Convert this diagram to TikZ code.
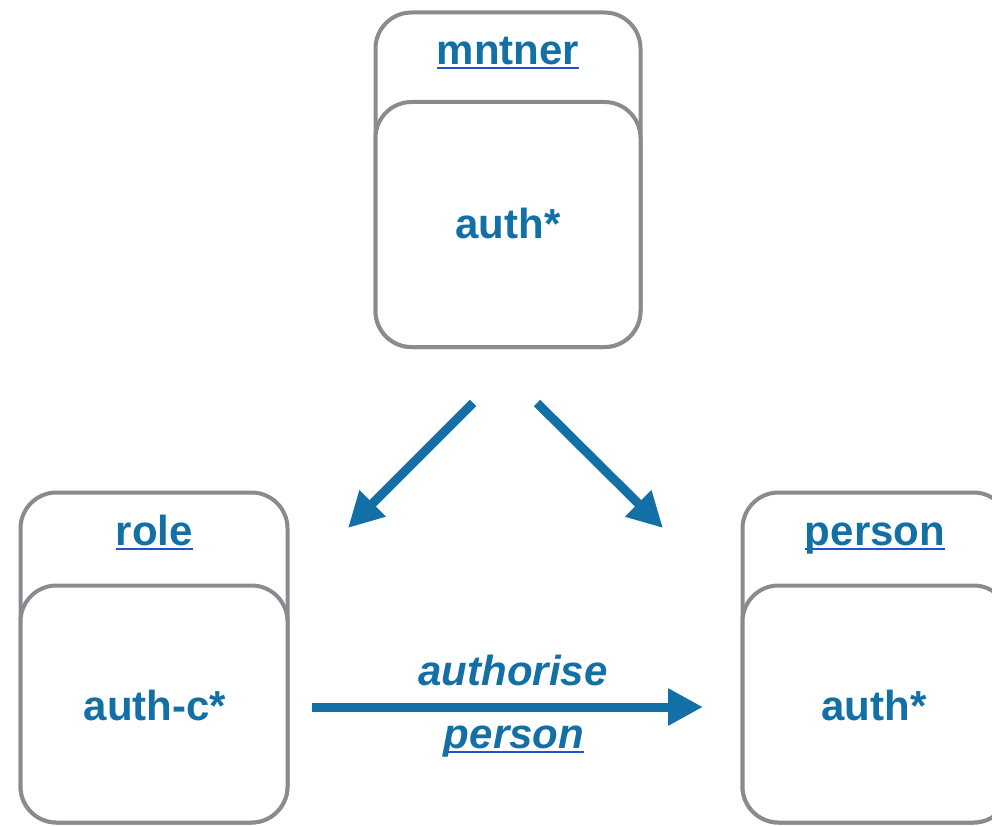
\documentclass[tikz,border=0pt]{standalone}
\usepackage{fontspec}
\setmainfont{Liberation Sans}
\usetikzlibrary{arrows.meta}
\definecolor{linkblue}{HTML}{1270A6}
\definecolor{ulblue}{HTML}{1E55C8}
\definecolor{boxgray}{HTML}{898B90}
\newsavebox\lnkbox
% underlined link text with its own underline colour
\newcommand\linked[1]{\sbox\lnkbox{#1}\rlap{\textcolor{ulblue}{\rule[-4.5pt]{\wd\lnkbox}{2pt}}}\usebox\lnkbox}
\begin{document}
\begin{tikzpicture}[x=1pt,y=-1pt,
  objbox/.style={draw=boxgray, line width=4pt, fill=white, rounded corners=36pt,
    inner sep=0pt, outer sep=0pt, anchor=north west},
  label/.style={text=linkblue, font=\bfseries\fontsize{42}{50}\selectfont,
    anchor=base, inner sep=0pt},
  flow/.style={draw=linkblue, line width=9pt,
    -{Triangle[length=35pt,width=35pt]}}]
\useasboundingbox (0,0) rectangle (992,826);
\clip (0,0) rectangle (992,826);

% mntner object
\node[objbox, minimum width=265pt, minimum height=334.5pt] (mntnerOuter) at (375.5,12.5) {};
\node[objbox, minimum width=265pt, minimum height=245pt] (mntnerInner) at (375.5,102) {};
\node[label] (mntnerTitle) at (508,65) {\linked{mntner}};
\node[label] (mntnerAuth) at (508,239) {auth*};

% role object
\node[objbox, minimum width=267pt, minimum height=330pt] (roleOuter) at (20.5,492.5) {};
\node[objbox, minimum width=267pt, minimum height=237pt] (roleInner) at (20.5,585.5) {};
\node[label] (roleTitle) at (154.5,545) {\linked{role}};
\node[label] (roleAuth) at (155,720) {auth-c*};

% person object
\node[objbox, minimum width=267pt, minimum height=330pt] (personOuter) at (742.5,492.5) {};
\node[objbox, minimum width=267pt, minimum height=237pt] (personInner) at (742.5,585.5) {};
\node[label] (personTitle) at (875,545) {\linked{person}};
\node[label] (personAuth) at (874,720) {auth*};

% connectors
\coordinate (toRoleS) at (473,403);
\coordinate (toRoleE) at (348,528);
\coordinate (toPersonS) at (537,403);
\coordinate (toPersonE) at (663,528);
\coordinate (authS) at (312,707);
\coordinate (authE) at (703,707);
\draw[flow] (toRoleS) -- (toRoleE);
\draw[flow] (toPersonS) -- (toPersonE);
\draw[flow] (authS) -- (authE);

\node[label, font=\bfseries\itshape\fontsize{42}{50}\selectfont] (authTop) at (513,685) {authorise};
\node[label, font=\bfseries\itshape\fontsize{42}{50}\selectfont] (authBottom) at (514,748) {\linked{person}};
\end{tikzpicture}
\end{document}
